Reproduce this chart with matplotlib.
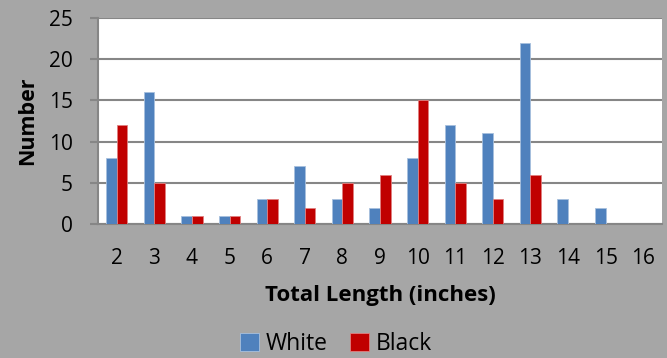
import matplotlib
matplotlib.use("Agg")
import matplotlib.pyplot as plt
import numpy as np

plt.rcParams['font.family'] = ['Open Sans', 'DejaVu Sans']

categories = [2, 3, 4, 5, 6, 7, 8, 9, 10, 11, 12, 13, 14, 15, 16]
white = [8, 16, 1, 1, 3, 7, 3, 2, 8, 12, 11, 22, 3, 2, 0]
black = [12, 5, 1, 1, 3, 2, 5, 6, 15, 5, 3, 6, 0, 0, 0]

bg = '#A6A6A6'
fig = plt.figure(figsize=(6.67, 3.58), dpi=100, facecolor=bg)
ax = fig.add_axes([98/667, 1-224/358, (662-98)/667, (224-18)/358])
ax.set_facecolor('white')

x = np.arange(len(categories))
w = 0.28
ax.bar(x - w/2, white, w, color='#4F81BD', edgecolor='#A7C0DE', linewidth=0.6, label='White', zorder=3)
ax.bar(x + w/2, black, w, color='#C00000', edgecolor='#E08080', linewidth=0.6, label='Black', zorder=3)

ax.set_xlim(-0.5, len(categories) - 0.5)
ax.set_ylim(0, 25)
ax.set_yticks([0, 5, 10, 15, 20, 25])
ax.yaxis.grid(True, color='#868686', linewidth=1.5, zorder=0)
ax.set_xticks(x)
ax.set_xticklabels([str(c) for c in categories])
ax.tick_params(axis='both', labelsize=15, colors='black')
ax.tick_params(axis='x', length=0, pad=17)
ax.tick_params(axis='y', length=6, width=1.5, color='#868686', pad=12)

for s in ['top', 'right']:
    ax.spines[s].set_visible(False)
ax.spines['left'].set_color('#868686')
ax.spines['left'].set_linewidth(1.5)
ax.spines['bottom'].set_color('#868686')
ax.spines['bottom'].set_linewidth(1.5)

ax.set_xlabel('Total Length (inches)', fontsize=16, fontweight='bold', labelpad=12)
ax.set_ylabel('Number', fontsize=15.5, fontweight='bold', labelpad=8)

leg = fig.legend(loc='center', bbox_to_anchor=(336/667, 1-344/358), ncol=2, frameon=False,
                 fontsize=16.5, handlelength=0.8, handleheight=0.8, handletextpad=0.3, columnspacing=1.0)

fig.savefig('out.png', dpi=100, facecolor=bg)
